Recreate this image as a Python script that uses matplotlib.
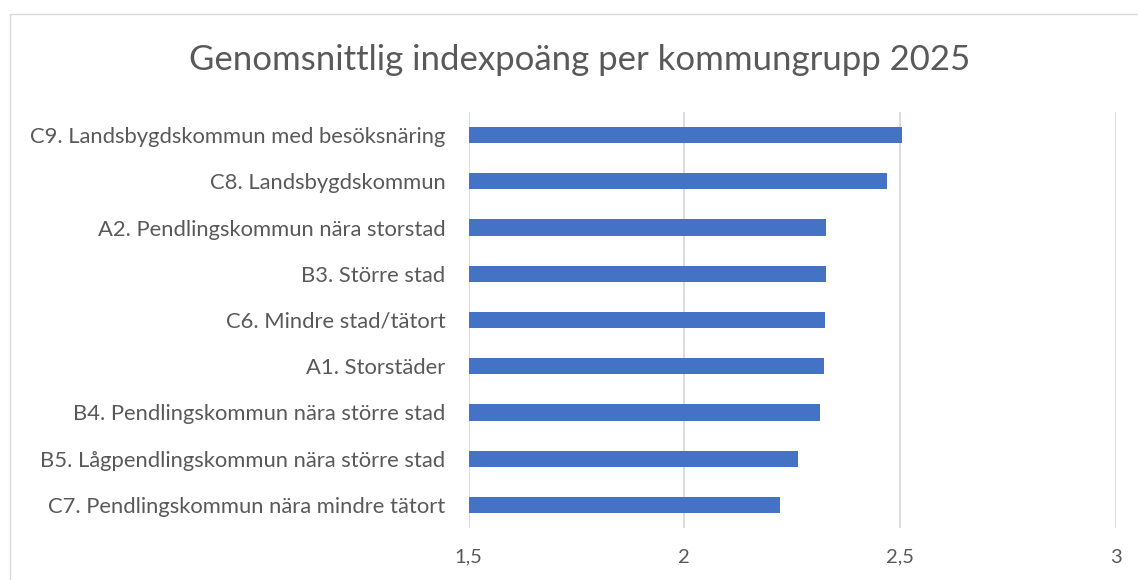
import matplotlib
matplotlib.use("Agg")
import matplotlib.pyplot as plt
from matplotlib.patches import Rectangle

categories = [
    "C9. Landsbygdskommun med besöksnäring",
    "C8. Landsbygdskommun",
    "A2. Pendlingskommun nära storstad",
    "B3. Större stad",
    "C6. Mindre stad/tätort",
    "A1. Storstäder",
    "B4. Pendlingskommun nära större stad",
    "B5. Lågpendlingskommun nära större stad",
    "C7. Pendlingskommun nära mindre tätort",
]
values = [2.505, 2.470, 2.328, 2.327, 2.325, 2.323, 2.314, 2.263, 2.222]
xticks = [1.5, 2.0, 2.5, 3.0]
xticklabels = ["1,5", "2", "2,5", "3"]
title = "Genomsnittlig indexpoäng per kommungrupp 2025"

plt.rcParams['font.family'] = ['Lato', 'DejaVu Sans']
txt = "#595959"

fig = plt.figure(figsize=(11.38, 5.8), dpi=100)
ax = fig.add_axes([0.4117, 0.0897, 0.5690, 0.7172])

y = list(range(len(categories)))[::-1]
ax.barh(y, [v - 1.5 for v in values], left=1.5, height=0.35, color="#4472C4", zorder=3)
ax.set_xlim(1.5, 3.0)
ax.set_ylim(-0.5, len(categories) - 0.5)
ax.set_xticks(xticks)
ax.set_xticklabels(xticklabels)
ax.set_yticks(y)
ax.set_yticklabels(categories)
ax.grid(axis="x", color="#D9D9D9", linewidth=1.3, zorder=0)
for s in ax.spines.values():
    s.set_visible(False)
ax.tick_params(axis="both", length=0, colors=txt)
ax.tick_params(axis="y", pad=16.5, labelsize=15.8)
ax.tick_params(axis="x", pad=15, labelsize=14.5)

fig.text(0.509, 0.897, title, ha="center", va="center", fontsize=25, color=txt)
fig.patches.append(Rectangle((10 / 1138, -0.01), 1.0, 1 - 14 / 580 + 0.01, transform=fig.transFigure,
                             fill=False, edgecolor="#D9D9D9", linewidth=1))

fig.savefig("out.png", dpi=100)
